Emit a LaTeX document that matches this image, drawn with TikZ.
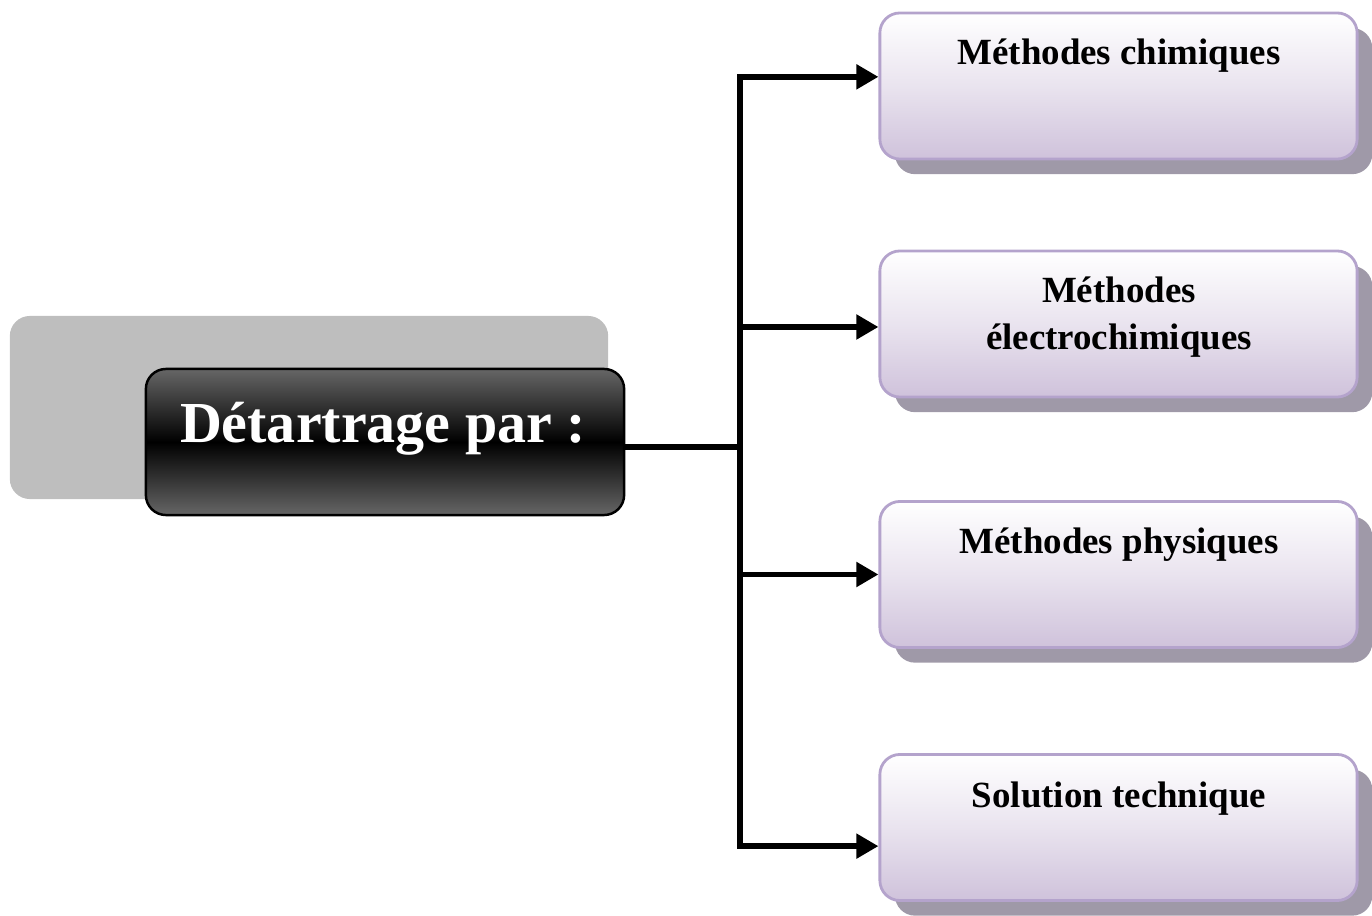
\documentclass[tikz,border=0pt]{standalone}
\usepackage{fontspec}
\setmainfont{Liberation Serif}
\usepackage{tikz}
\usetikzlibrary{arrows.meta}
\usetikzlibrary{shadows}

\definecolor{backgray}{HTML}{BEBEBE}
\definecolor{darktop}{HTML}{666666}
\definecolor{lilac}{HTML}{CFC2DB}
\definecolor{lilacline}{HTML}{B4A3CC}
\definecolor{shadowgray}{HTML}{9F99A8}

\tikzset{
  methodbox/.style = {rectangle, rounded corners=5.7pt, draw=lilacline, line width=0.8pt,
                      minimum width=4.77cm, minimum height=1.46cm,
                      top color=white, bottom color=lilac, middle color=lilac!45!white,
                      drop shadow={shadow xshift=4.3pt, shadow yshift=-4.3pt,
                                   fill=shadowgray, opacity=1}},
  methodtext/.style = {anchor=base, align=center, font=\fontsize{10.5}{13.4}\selectfont\bfseries},
  link/.style = {line width=1.6pt, -{Triangle[length=6.3pt, width=6.8pt]}}
}

\begin{document}
\begin{tikzpicture}[x=0.01cm, y=-0.01cm]
    \useasboundingbox (0,0) rectangle (1372,916);

    % draw the title block
    \node[rectangle, rounded corners=5.7pt, fill=backgray, minimum width=5.98cm, minimum height=1.83cm]
      (back) at (309,407.5) {};
    \node[rectangle, rounded corners=5.7pt, draw=black, line width=0.7pt,
          minimum width=4.78cm, minimum height=1.46cm,
          top color=darktop, bottom color=darktop, middle color=black]
      (detartrage) at (385,442) {};
    \node[anchor=base, text=white, font=\fontsize{16.5}{20}\selectfont\bfseries]
      (titre) at (383,443) {Détartrage par :};

    % draw the method boxes
    \node[methodbox] (chimiques) at (1118.5,86) {};
    \node[methodbox] (electro)   at (1118.5,324) {};
    \node[methodbox] (physiques) at (1118.5,574.5) {};
    \node[methodbox] (solution)  at (1118.5,827.5) {};

    \node[methodtext] (chimtxt)  at (1119,65)  {Méthodes chimiques};
    \node[methodtext] (electxt)  at (1119,350) {Méthodes\\électrochimiques};
    \node[methodtext] (phystxt)  at (1119,554) {Méthodes physiques};
    \node[methodtext] (soltxt)   at (1119,808) {Solution technique};

    % draw connectors
    \coordinate (fork) at (740,447);
    \draw[line width=1.6pt] (detartrage.east |- fork) -- (fork);
    \draw[link] (fork) |- ([yshift=2.6pt]chimiques.west);
    \draw[link] (fork) |- ([yshift=-0.85pt]electro.west);
    \draw[link] (fork) |- (physiques.west);
    \draw[link] (fork) |- ([yshift=-5.3pt]solution.west);

\end{tikzpicture}
\end{document}
